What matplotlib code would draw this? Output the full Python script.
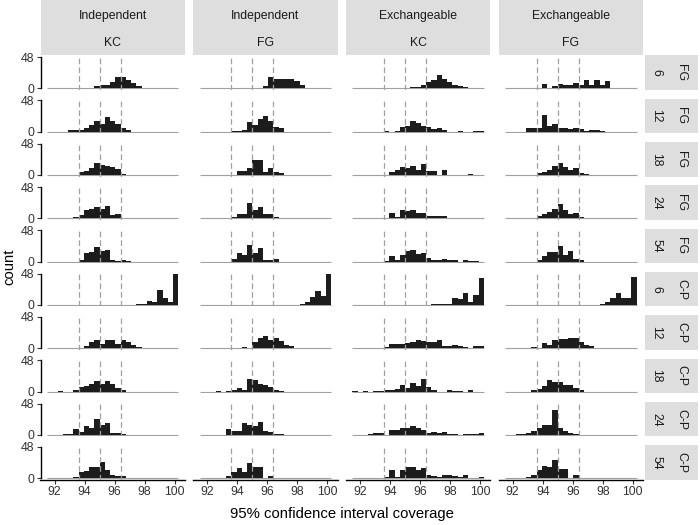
import matplotlib.pyplot as plt
import numpy as np
from matplotlib.patches import Rectangle

plt.rcParams["font.family"] = ["Liberation Sans", "DejaVu Sans"]

# facet labels
COL_TOP = ["Independent", "Independent", "Exchangeable", "Exchangeable"]
COL_BOTTOM = ["KC", "FG", "KC", "FG"]
ROW_SIZE = ["6", "12", "18", "24", "54", "6", "12", "18", "24", "54"]
ROW_METHOD = ["FG", "FG", "FG", "FG", "FG", "C-P", "C-P", "C-P", "C-P", "C-P"]

# histogram bins (25 bins, width 0.35, from 91.5 to 100.25)
BIN_EDGES = np.round(91.5 + 0.35 * np.arange(26), 2)
REF_LINES = [93.6, 95.0, 96.4]
X_TICKS = [92, 94, 96, 98, 100]
Y_TICKS = [0, 48]

# counts per bin, one list per row (6 FG ... 54 C-P)
ind_kc = [
    [0, 0, 0, 0, 0, 0, 0, 0, 0, 4, 5, 5, 10, 18, 17, 13, 8, 4, 0, 0, 0, 0, 0, 0, 0],
    [0, 0, 0, 0, 2, 3, 2, 5, 10, 16, 11, 23, 16, 11, 5, 2, 0, 0, 0, 0, 0, 0, 0, 0, 0],
    [0, 0, 0, 0, 0, 0, 4, 6, 10, 19, 16, 14, 12, 9, 1, 0, 0, 0, 0, 0, 0, 0, 0, 0, 0],
    [0, 0, 0, 0, 0, 2, 5, 13, 15, 17, 15, 19, 5, 7, 0, 0, 0, 0, 0, 0, 0, 0, 0, 0, 0],
    [0, 0, 0, 0, 0, 0, 3, 13, 14, 22, 16, 18, 2, 1, 2, 1, 0, 0, 0, 0, 0, 0, 0, 0, 0],
    [0, 0, 0, 0, 0, 0, 0, 0, 0, 0, 0, 0, 0, 0, 0, 0, 0, 1, 1, 6, 5, 23, 10, 4, 48],
    [0, 0, 0, 0, 1, 1, 1, 4, 9, 12, 7, 13, 12, 7, 12, 10, 5, 2, 1, 1, 0, 0, 0, 0, 0],
    [0, 0, 1, 0, 0, 2, 7, 8, 11, 17, 11, 16, 11, 6, 2, 0, 0, 0, 0, 0, 0, 0, 0, 0, 0],
    [0, 0, 0, 1, 2, 9, 5, 14, 10, 25, 15, 18, 3, 3, 1, 0, 0, 0, 0, 0, 0, 0, 0, 0, 0],
    [0, 0, 0, 0, 0, 2, 9, 11, 18, 18, 25, 13, 5, 4, 3, 0, 0, 0, 0, 0, 0, 0, 0, 0, 0],
]
ind_fg = [
    [0, 0, 0, 0, 0, 0, 0, 0, 0, 0, 1, 1, 3, 17, 14, 15, 14, 15, 11, 5, 0, 0, 0, 0, 0],
    [0, 0, 0, 0, 0, 0, 1, 1, 3, 14, 10, 19, 24, 16, 7, 5, 0, 0, 0, 0, 0, 0, 0, 0, 0],
    [0, 0, 0, 0, 0, 0, 0, 6, 6, 11, 23, 23, 5, 11, 5, 3, 0, 0, 0, 0, 0, 0, 0, 0, 0],
    [0, 0, 0, 0, 0, 1, 2, 7, 7, 23, 12, 18, 6, 6, 2, 1, 0, 0, 0, 0, 0, 0, 0, 0, 0],
    [0, 0, 0, 0, 0, 0, 4, 13, 10, 26, 13, 21, 2, 2, 4, 0, 0, 0, 0, 0, 0, 0, 0, 0, 0],
    [0, 0, 0, 0, 0, 0, 0, 0, 0, 0, 0, 0, 0, 0, 0, 0, 0, 0, 0, 2, 4, 12, 21, 14, 48],
    [0, 0, 0, 0, 0, 0, 0, 1, 2, 1, 10, 15, 19, 13, 16, 11, 5, 3, 1, 1, 0, 0, 0, 0, 0],
    [0, 0, 0, 1, 0, 1, 2, 6, 3, 20, 18, 12, 10, 7, 3, 1, 0, 0, 0, 0, 0, 0, 0, 0, 0],
    [0, 0, 0, 0, 0, 9, 6, 6, 18, 15, 14, 20, 6, 4, 2, 1, 0, 0, 0, 0, 0, 0, 0, 0, 0],
    [0, 0, 0, 0, 0, 4, 10, 16, 9, 24, 18, 18, 1, 4, 0, 0, 0, 0, 0, 0, 0, 0, 0, 0, 0],
]
exc_kc = [
    [0, 0, 0, 0, 0, 0, 0, 0, 0, 0, 1, 2, 2, 5, 10, 13, 21, 15, 9, 5, 3, 2, 1, 0, 0],
    [0, 0, 0, 0, 0, 0, 1, 0, 1, 7, 8, 17, 13, 8, 7, 4, 6, 2, 0, 0, 1, 0, 0, 1, 1],
    [0, 0, 0, 0, 0, 0, 0, 5, 7, 12, 10, 14, 7, 17, 6, 6, 0, 8, 0, 0, 0, 0, 1, 0, 0],
    [0, 0, 0, 0, 0, 0, 0, 8, 2, 12, 11, 12, 8, 8, 3, 3, 3, 3, 0, 1, 0, 0, 1, 0, 1],
    [0, 0, 0, 0, 0, 0, 1, 9, 3, 10, 16, 18, 12, 13, 6, 2, 2, 4, 2, 2, 0, 3, 1, 1, 0],
    [0, 0, 0, 0, 0, 0, 0, 0, 0, 0, 0, 0, 0, 0, 0, 1, 1, 1, 1, 11, 9, 18, 5, 15, 41],
    [0, 0, 0, 0, 0, 1, 2, 6, 6, 6, 8, 9, 12, 11, 9, 10, 12, 3, 4, 5, 4, 2, 1, 3, 3],
    [1, 0, 1, 0, 1, 1, 2, 3, 4, 10, 6, 13, 9, 19, 7, 3, 0, 0, 2, 1, 1, 0, 2, 0, 0],
    [0, 0, 0, 2, 3, 3, 0, 7, 8, 10, 10, 14, 10, 7, 3, 4, 3, 4, 1, 1, 0, 1, 1, 1, 3],
    [0, 0, 0, 0, 0, 0, 2, 13, 2, 13, 17, 17, 13, 16, 5, 4, 2, 5, 5, 4, 2, 5, 1, 1, 2],
]
exc_fg = [
    [0, 0, 0, 0, 0, 0, 0, 7, 1, 3, 6, 5, 5, 8, 5, 12, 5, 12, 5, 11, 1, 0, 0, 0, 0],
    [0, 0, 0, 0, 5, 5, 5, 26, 9, 12, 5, 6, 4, 5, 4, 1, 3, 3, 1, 0, 0, 0, 0, 0, 0],
    [0, 0, 0, 0, 0, 0, 3, 5, 8, 14, 18, 12, 8, 10, 3, 1, 0, 0, 0, 0, 0, 0, 0, 0, 0],
    [0, 0, 0, 0, 0, 1, 3, 7, 9, 14, 22, 13, 7, 8, 2, 0, 0, 0, 0, 0, 0, 0, 0, 0, 0],
    [0, 0, 0, 0, 0, 0, 2, 8, 14, 14, 24, 10, 16, 4, 2, 0, 0, 0, 0, 0, 0, 0, 0, 0, 0],
    [0, 0, 0, 0, 0, 0, 0, 0, 0, 0, 0, 0, 0, 0, 0, 0, 0, 0, 1, 4, 11, 19, 11, 11, 43],
    [0, 0, 0, 0, 1, 2, 1, 8, 5, 13, 14, 14, 15, 15, 9, 5, 3, 1, 1, 0, 0, 0, 0, 0, 0],
    [0, 0, 0, 0, 0, 2, 4, 8, 18, 14, 14, 10, 10, 5, 2, 0, 0, 0, 0, 0, 0, 0, 0, 0, 0],
    [0, 0, 1, 1, 3, 6, 10, 15, 15, 38, 10, 6, 3, 1, 0, 0, 0, 0, 0, 0, 0, 0, 0, 0, 0],
    [0, 0, 0, 0, 2, 5, 13, 19, 17, 28, 14, 14, 1, 5, 0, 0, 0, 0, 0, 0, 0, 0, 0, 0, 0],
]
PANELS = [ind_kc, ind_fg, exc_kc, exc_fg]

BAR = "#1c1c1c"
LINE_GREY = "#a0a0a0"
STRIP = "#dedede"
TXT = "#1a1a1a"

W, H = 700, 525
COL_LEFT = [40.5, 193.2, 345.9, 498.6]
PANEL_W = 144.5
ROW_TOP = [55.45 + 43.33 * i for i in range(10)]
PANEL_H = 34.4

fig = plt.figure(figsize=(W / 100, H / 100), dpi=100)


def frac(left, top, width, height):
    return [left / W, 1 - (top + height) / H, width / W, height / H]


def strip(left, top, width, height):
    x, y, w, h = frac(left, top, width, height)
    fig.add_artist(Rectangle((x, y), w, h, transform=fig.transFigure,
                             facecolor=STRIP, edgecolor="none"))


for c, rows in enumerate(PANELS):
    for r, counts in enumerate(rows):
        ax = fig.add_axes(frac(COL_LEFT[c], ROW_TOP[r], PANEL_W, PANEL_H))
        ax.hlines(0, BIN_EDGES[0], BIN_EDGES[-1], color=LINE_GREY, lw=0.8, zorder=1)
        ax.stairs(counts, BIN_EDGES, fill=True, color=BAR, lw=0, zorder=2)
        for x in REF_LINES:
            ax.axvline(x, color=LINE_GREY, lw=0.9, ls=(0, (4.5, 2.5)), zorder=3)
        ax.set_xlim(91.0625, 100.6875)
        ax.set_ylim(-2.4, 50.4)
        for side in ["top", "right", "left", "bottom"]:
            ax.spines[side].set_visible(False)
        ax.tick_params(length=2.75, width=0.8, colors="#333333",
                       labelsize=8.8, pad=1.5)
        if c == 0:
            ax.spines["left"].set_visible(True)
            ax.spines["left"].set_linewidth(1.0)
            ax.spines["left"].set_bounds(0, 48)
            ax.set_yticks(Y_TICKS)
        else:
            ax.set_yticks([])
        if r == len(rows) - 1:
            ax.spines["bottom"].set_visible(True)
            ax.spines["bottom"].set_linewidth(1.0)
            ax.set_xticks(X_TICKS)
        else:
            ax.set_xticks([])

# column strips
for c in range(4):
    strip(COL_LEFT[c], 0, PANEL_W, 54.5)
    fig.text((COL_LEFT[c] + PANEL_W / 2) / W, 1 - 16.5 / H, COL_TOP[c],
             ha="center", va="center", fontsize=8.8, color=TXT)
    fig.text((COL_LEFT[c] + PANEL_W / 2) / W, 1 - 43.5 / H, COL_BOTTOM[c],
             ha="center", va="center", fontsize=8.8, color=TXT)

# row strips
for r in range(10):
    strip(644.5, ROW_TOP[r], 53.5, PANEL_H)
    yc = 1 - (ROW_TOP[r] + PANEL_H / 2) / H
    fig.text(656 / W, yc, ROW_SIZE[r], ha="center", va="center",
             rotation=270, fontsize=8.8, color=TXT)
    fig.text(681 / W, yc, ROW_METHOD[r], ha="center", va="center",
             rotation=270, fontsize=8.8, color=TXT)

fig.text(341.8 / W, 1 - 514 / H, "95% confidence interval coverage",
         ha="center", va="center", fontsize=10.7, color="black")
fig.text(9 / W, 1 - 267 / H, "count", ha="center", va="center",
         rotation=90, fontsize=10.7, color="black")

fig.savefig("out.png", dpi=100)
